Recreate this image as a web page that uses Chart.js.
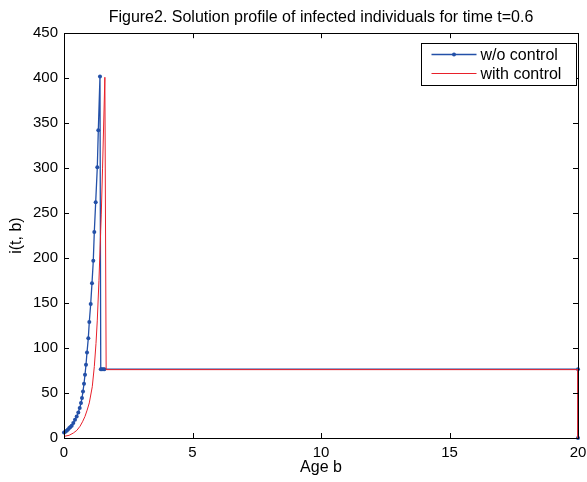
<!DOCTYPE html>
<html>
<head>
<meta charset="utf-8">
<script src="https://cdn.jsdelivr.net/npm/chart.js@4/dist/chart.umd.min.js"></script>
<style>
  body { margin: 0; background: #fff; }
</style>
</head>
<body>
<canvas id="grafico" width="587" height="482"></canvas>
<script>
// valores
var idadeSemControle = [0, 0.05, 0.105, 0.155, 0.206, 0.25, 0.300, 0.362, 0.428, 0.494, 0.556, 0.611, 0.661, 0.700, 0.739, 0.778, 0.817, 0.856, 0.895, 0.946, 0.984, 1.039, 1.089, 1.140, 1.179, 1.233, 1.296, 1.335, 1.40, 1.43, 1.47, 1.52, 1.57, 20, 20];
var infectSemControle = [6.2, 7, 8.1, 9.5, 11.1, 12.3, 13.7, 16.7, 20.3, 24, 28.4, 33.3, 38.9, 44.4, 51.8, 60.3, 70.3, 81.4, 95, 111, 129, 149, 172, 197, 229, 262, 301, 342, 402, 76.5, 76.5, 76.5, 76.5, 76.5, 0];

var idadeComControle = [0, 0.2, 0.362, 0.5, 0.623, 0.72, 0.817, 0.9, 0.984, 1.10, 1.18, 1.245, 1.296, 1.36, 1.45, 1.50, 1.59, 1.64, 20, 20];
var infectComControle = [1.8, 3, 5.5, 8.5, 13, 18, 24, 31, 39, 57, 79.5, 105, 131, 175, 248, 300, 401, 76, 76, 0];

var ticksX = [0, 5, 10, 15, 20];
var ticksY = [0, 50, 100, 150, 200, 250, 300, 350, 400, 450];

var legendas = ['w/o control', 'with control'];
var titulo = 'Figure2. Solution profile of infected individuals for time t=0.6';

function pares(xs, ys) {
    var r = [];
    for (var i = 0; i < xs.length; i++) r.push({ x: xs[i], y: ys[i] });
    return r;
}

var fonte = 'Liberation Sans, Arial, Helvetica, sans-serif';

// caixa + marcas para dentro, estilo matlab
var caixaPlugin = {
    id: 'caixa',
    afterLayout: function (chart) {
        // titulo centrado sobre a area do grafico
        if (chart.titleBlock) {
            chart.titleBlock.left = chart.chartArea.left;
            chart.titleBlock.right = chart.chartArea.right;
        }
    },
    afterDraw: function (chart) {
        var ctx = chart.ctx, a = chart.chartArea;
        var sx = chart.scales.x, sy = chart.scales.y;
        ctx.save();
        ctx.strokeStyle = '#000';
        ctx.lineWidth = 1;
        ctx.beginPath();
        ticksX.forEach(function (v) {
            var p = Math.round(sx.getPixelForValue(v)) + 0.5;
            ctx.moveTo(p, a.bottom); ctx.lineTo(p, a.bottom - 5);
            ctx.moveTo(p, a.top); ctx.lineTo(p, a.top + 5);
        });
        ticksY.forEach(function (v) {
            var p = Math.round(sy.getPixelForValue(v)) + 0.5;
            ctx.moveTo(a.left, p); ctx.lineTo(a.left + 5, p);
            ctx.moveTo(a.right, p); ctx.lineTo(a.right - 5, p);
        });
        ctx.stroke();
        ctx.strokeRect(Math.round(a.left) + 0.5, Math.round(a.top) + 0.5, Math.round(a.right - a.left), Math.round(a.bottom - a.top));

        // legenda
        var lx = 421.5, ly = 43.5, lw = 155, lh = 42;
        ctx.fillStyle = '#fff';
        ctx.fillRect(lx, ly, lw, lh);
        ctx.strokeRect(lx, ly, lw, lh);
        ctx.font = '16px ' + fonte;
        ctx.textBaseline = 'middle';
        chart.data.datasets.forEach(function (ds, i) {
            var y = ly + 11 + i * 19;
            ctx.strokeStyle = ds.borderColor;
            ctx.lineWidth = ds.borderWidth;
            ctx.beginPath();
            ctx.moveTo(lx + 10, y); ctx.lineTo(lx + 55, y);
            ctx.stroke();
            if (ds.pointRadius > 0) {
                ctx.fillStyle = ds.borderColor;
                ctx.beginPath();
                ctx.arc(lx + 32.5, y, ds.pointRadius, 0, Math.PI * 2);
                ctx.fill();
            }
            ctx.fillStyle = '#000';
            ctx.fillText(legendas[i], lx + 59, y + 1);
        });
        ctx.restore();
    }
};

var ctx = document.getElementById('grafico').getContext('2d');
var grafico = new Chart(ctx, {
    type: 'scatter',
    data: {
        datasets: [
            {
                label: legendas[0],
                data: pares(idadeSemControle, infectSemControle),
                showLine: true,
                borderColor: '#2350a8',
                backgroundColor: '#2350a8',
                borderWidth: 1.3,
                pointRadius: 2,
                pointHoverRadius: 2,
                pointBorderWidth: 0,
                order: 1,
                clip: 4
            },
            {
                label: legendas[1],
                data: pares(idadeComControle, infectComControle),
                showLine: true,
                borderColor: '#e8202a',
                backgroundColor: '#e8202a',
                borderWidth: 1,
                pointRadius: 0,
                order: 0,
                clip: 4
            }
        ]
    },
    options: {
        responsive: false,
        animation: false,
        devicePixelRatio: 1,
        layout: { padding: { left: 0, right: 9, top: 0, bottom: 0 } },
        plugins: {
            legend: { display: false },
            tooltip: { enabled: false },
            title: {
                display: true,
                text: titulo,
                color: '#000',
                font: { family: fonte, size: 16, weight: 'normal' },
                padding: { top: 8, bottom: 6 }
            }
        },
        scales: {
            x: {
                type: 'linear',
                min: 0, max: 20,
                afterBuildTicks: function (s) { s.ticks = ticksX.map(function (v) { return { value: v }; }); },
                afterFit: function (s) { s.height = 44; s.paddingLeft = 0; s.paddingRight = 0; },
                grid: { display: false, drawTicks: false },
                border: { display: false },
                ticks: { color: '#000', padding: 6, font: { family: fonte, size: 15 } },
                title: { display: true, text: 'Age b', color: '#000', font: { family: fonte, size: 16 }, padding: { top: 0, bottom: 5 } }
            },
            y: {
                type: 'linear',
                min: 0, max: 450,
                afterBuildTicks: function (s) { s.ticks = ticksY.map(function (v) { return { value: v }; }); },
                afterFit: function (s) { s.width = 64; },
                grid: { display: false, drawTicks: false },
                border: { display: false },
                ticks: { color: '#000', padding: 6, font: { family: fonte, size: 15 } },
                title: { display: true, text: 'i(t, b)', color: '#000', font: { family: fonte, size: 16 }, padding: { top: 7, bottom: 0 } }
            }
        }
    },
    plugins: [caixaPlugin]
});
</script>
</body>
</html>
